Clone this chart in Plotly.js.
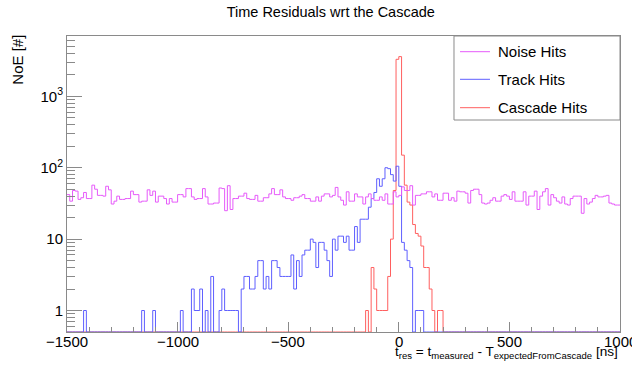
<!DOCTYPE html>
<html><head><meta charset="utf-8">
<script src="https://cdn.plot.ly/plotly-3.0.1.min.js"></script>
<style>html,body{margin:0;padding:0;background:#fff}#chart{width:632px;height:369px}</style>
</head><body><div id="chart"></div>
<script>
// histogram binning: 200 bins from -1500 to 1000 ns
const binLow = -1500;
const binWidth = 12.5;

const noiseHits = [
42,34,48,47,36,38,45,37,37,57,
50,41,41,40,55,49,31,34,40,36,
36,37,37,47,42,42,33,34,34,49,
41,47,33,40,40,37,31,37,33,33,
42,42,39,51,51,39,36,37,37,51,
39,31,31,32,32,52,51,25,56,26,
37,37,40,40,44,37,36,36,41,34,
34,38,38,43,51,42,42,49,39,37,
37,35,38,38,40,42,37,37,34,34,
39,34,40,43,43,39,41,53,39,35,
30,46,34,34,43,39,39,31,39,43,
37,35,35,39,35,43,31,31,46,39,
41,54,48,48,56,30,41,41,43,43,
46,46,39,43,35,35,44,44,35,38,
34,47,46,46,44,32,48,50,50,42,
32,31,32,35,38,34,34,40,42,40,
36,46,34,34,34,46,30,40,40,47,
26,40,46,51,30,42,38,34,32,39,
31,30,37,40,40,40,23,37,31,33,
37,41,39,39,40,41,32,31,30,30
];

const trackHits = [
0,0,0,0,0,0,1,0,0,0,
0,0,0,0,0,0,0,0,0,0,
0,0,0,0,0,0,0,1,0,0,
0,1,0,0,0,0,0,0,0,0,
0,1,0,0,0,2,1,1,2,0,
1,0,3,0,0,1,2,1,1,1,
1,1,0,2,3,3,2,2,3,5,
5,2,3,2,5,5,4,3,3,3,
3,6,2,5,3,6,7,7,10,9,
4,9,9,7,5,3,10,7,11,11,
9,11,7,7,15,9,19,19,19,28,
37,45,70,55,70,100,97,80,65,105,
55,9,7,5,4,0,1,1,1,0,
0,0,0,0,0,0,0,0,0,0,
0,0,0,0,0,0,0,0,0,0,
0,0,0,0,0,0,0,0,0,0,
0,0,0,0,0,0,0,0,0,0,
0,0,0,0,0,0,0,0,0,0,
0,0,0,0,0,0,0,0,0,0,
0,0,0,0,0,0,0,0,0,0
];

const cascadeHits = [
0,0,0,0,0,0,0,0,0,0,
0,0,0,0,0,0,0,0,0,0,
0,0,0,0,0,0,0,0,0,0,
0,0,0,0,0,0,0,0,0,0,
0,0,0,0,0,0,0,0,0,0,
0,0,0,0,0,0,0,0,0,0,
0,0,0,0,0,0,0,0,0,0,
0,0,0,0,0,0,0,0,0,0,
0,0,0,0,0,0,0,0,0,0,
0,0,0,0,0,0,0,0,0,0,
0,0,0,0,0,0,0,0,1,0,
4,2,1,1,1,1,3,10,48,3300,
3600,150,57,33,30,16,12,11,8,4,
4,2,1,0,1,1,0,0,0,0,
0,0,0,0,0,0,0,0,0,0,
0,0,0,0,0,0,0,0,0,0,
0,0,0,0,0,0,0,0,0,0,
0,0,0,0,0,0,0,0,0,0,
0,0,0,0,0,0,0,0,0,0,
0,0,0,0,0,0,0,0,0,0
];

const seriesNames = ['Noise Hits', 'Track Hits', 'Cascade Hits'];
const seriesColors = ['rgb(230,90,250)', 'rgb(95,95,255)', 'rgb(255,95,95)'];
const xTickVals = [-1500, -1000, -500, 0, 500, 1000];
const yTickVals = [1, 10, 100, 1000];
const yTickText = ['1', '10', '10<sup>2</sup>', '10<sup>3</sup>'];

const yMin = 0.5;
function stepTrace(values, name, color) {
  const xs = [], ys = [];
  for (let i = 0; i <= values.length; i++) {
    xs.push(binLow + i * binWidth);
    const v = values[Math.min(i, values.length - 1)];
    ys.push(v > 0 ? v : yMin);
  }
  return {x: xs, y: ys, type: 'scatter', mode: 'lines', name: name,
          line: {shape: 'hv', color: color, width: 1}, showlegend: false,
          hoverinfo: 'skip'};
}

const traces = [
  stepTrace(cascadeHits, seriesNames[2], seriesColors[2]),
  stepTrace(trackHits, seriesNames[1], seriesColors[1]),
  stepTrace(noiseHits, seriesNames[0], seriesColors[0])
];

const yMinor = [];
[0.1, 1, 10, 100, 1000].forEach(d => { for (let k = 2; k <= 9; k++) { const v = d * k; if (v > 0.5 && v < 7000) yMinor.push(v); } });

const FONT = 'Liberation Sans, Arial, Helvetica, sans-serif';
const frameColor = '#8a8a8a';

// legend geometry (paper coords)
const L = {x0: 0.6998, x1: 1.0, y0: 0.7162, y1: 1.0, lx0: 0.7107, lx1: 0.7649, tx: 0.7758, rows: [0.947, 0.8537, 0.7578]};
const shapes = [{type: 'rect', xref: 'paper', yref: 'paper', x0: L.x0, x1: L.x1, y0: L.y0, y1: L.y1,
  line: {color: frameColor, width: 1}, fillcolor: 'white'}];
const annotations = [];
seriesNames.forEach((n, i) => {
  shapes.push({type: 'line', xref: 'paper', yref: 'paper', x0: L.lx0, x1: L.lx1, y0: L.rows[i], y1: L.rows[i],
    line: {color: seriesColors[i], width: 1}});
  annotations.push({xref: 'paper', yref: 'paper', x: L.tx, y: L.rows[i], xanchor: 'left', yanchor: 'middle',
    text: n, showarrow: false, font: {family: FONT, size: 15, color: '#000'}});
});
// x tick labels (ROOT style, placed on the x scale)
xTickVals.forEach(v => {
  annotations.push({xref: 'x', yref: 'paper', x: v, y: 0, xanchor: 'center', yanchor: 'top', yshift: 1,
    text: String(v).replace('-', '\u2212'), showarrow: false, font: {family: FONT, size: 15, color: '#000'}});
});
annotations.push({xref: 'paper', yref: 'paper', x: -0.0886, y: 0.92, textangle: -90, xanchor: 'center', yanchor: 'middle',
  text: 'NoE [#]', showarrow: false, font: {family: FONT, size: 15, color: '#000'}});
annotations.push({xref: 'paper', yref: 'paper', x: 1.0, y: -0.068, xanchor: 'right', yanchor: 'middle',
  text: 't<sub>res</sub> = t<sub>measured</sub> - T<sub>expectedFromCascade</sub> [ns]', showarrow: false,
  font: {family: FONT, size: 13.6, color: '#000'}});

const layout = {
  width: 632, height: 369,
  margin: {l: 67, r: 12, t: 36, b: 37},
  paper_bgcolor: '#fff', plot_bgcolor: '#fff',
  font: {family: FONT, size: 15, color: '#000'},
  title: {text: 'Time Residuals wrt the Cascade', x: 0.477, xref: 'paper', xanchor: 'center', y: 0.969, yref: 'container', yanchor: 'middle',
    font: {family: FONT, size: 14.5, color: '#000'}},
  xaxis: {range: [-1500, 1000], tickvals: xTickVals, ticks: 'inside', ticklen: 10, tickcolor: frameColor,
    showticklabels: false,
    showline: true, linecolor: frameColor, linewidth: 1, mirror: true, showgrid: false, zeroline: false,
    minor: {dtick: 100, ticks: 'inside', ticklen: 5, tickcolor: frameColor, showgrid: false}},
  yaxis: {type: 'log', range: [Math.log10(0.5), 3.845], tickvals: yTickVals, ticktext: yTickText,
    ticks: 'inside', ticklen: 15, tickcolor: frameColor,
    showline: true, linecolor: frameColor, linewidth: 1, mirror: true, showgrid: false, zeroline: false,
    tickfont: {family: FONT, size: 15},
    minor: {tickvals: yMinor, ticks: 'inside', ticklen: 8, tickcolor: frameColor, showgrid: false}},
  shapes: shapes, annotations: annotations
};

Plotly.newPlot('chart', traces, layout, {staticPlot: true, displayModeBar: false});
</script></body></html>
